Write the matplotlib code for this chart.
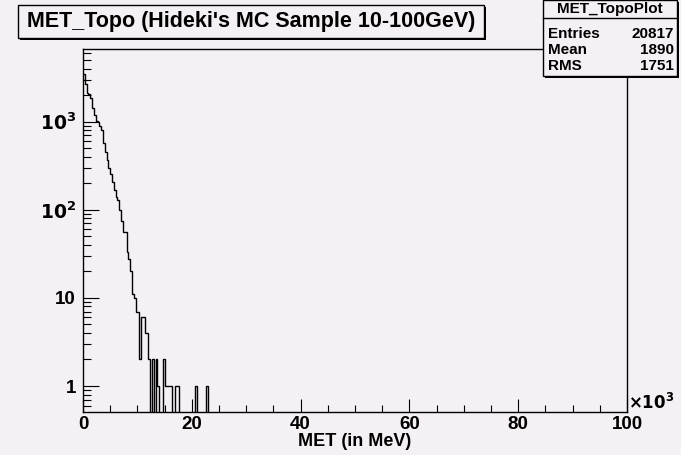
import numpy as np
import matplotlib.pyplot as plt
from matplotlib.patches import Rectangle
from matplotlib.ticker import FixedLocator, LogLocator, NullFormatter

plt.rcParams['font.family'] = ['Liberation Sans', 'DejaVu Sans']
plt.rcParams['font.weight'] = 'bold'
plt.rcParams['mathtext.default'] = 'bf'

# histogram: 300 bins from 0 to 100 GeV
n_bins = 300
met_max = 100000.0
met_counts = [3500, 2700, 2120, 2080, 1850, 1450, 1200, 1020, 990, 900,
              800, 580, 450, 370, 300, 255, 207, 168, 140, 130,
              100, 75, 56, 56, 33, 28, 20, 11, 10, 7,
              7, 2, 6, 6, 4, 4, 2, 0, 2, 0,
              2, 1, 0, 0, 2, 1, 1, 1, 1, 0,
              0, 1, 1, 0, 0, 0, 0, 0, 0, 0,
              0, 0, 1, 0, 0, 0, 0, 0, 1]

x_ticks = [0, 20000, 40000, 60000, 80000, 100000]
x_ticklabels = ['0', '20', '40', '60', '80', '100']
y_ticks = [1, 10, 100, 1000]
y_ticklabels = ['1', '10', r'$\mathbf{10^{2}}$', r'$\mathbf{10^{3}}$']

title = "MET_Topo (Hideki's MC Sample 10-100GeV)"
stats_name = 'MET_TopoPlot'
stats_rows = [('Entries', '20817'), ('Mean', '1890'), ('RMS', '1751')]

bg = '#f4f0f4'
W, H = 681, 455

counts = np.zeros(n_bins)
counts[:len(met_counts)] = met_counts
edges = np.linspace(0, met_max, n_bins + 1)

fig = plt.figure(figsize=(W / 100, H / 100), dpi=100, facecolor=bg)
ax = fig.add_axes([83 / W, 1 - 412 / H, 544 / W, 363 / H])
ax.set_facecolor(bg)

# empty bins drop to the bottom of the frame, like ROOT does
ax.stairs(np.where(counts > 0, counts, 1e-3), edges, baseline=None,
          color='black', lw=1)

ax.set_yscale('log')
ax.set_xlim(0, met_max)
ax.set_ylim(0.507, 6690)

ax.xaxis.set_major_locator(FixedLocator(x_ticks))
ax.set_xticklabels(x_ticklabels)
ax.xaxis.set_minor_locator(FixedLocator(np.arange(0, met_max + 1, 5000)))
ax.yaxis.set_major_locator(FixedLocator(y_ticks))
ax.set_yticklabels(y_ticklabels)
ax.yaxis.set_minor_locator(LogLocator(base=10, subs=np.arange(2, 10)))
ax.yaxis.set_minor_formatter(NullFormatter())

ax.tick_params(axis='x', which='major', direction='in', length=9.5, width=0.8,
               labelsize=13.5, pad=3)
ax.tick_params(axis='x', which='minor', direction='in', length=5, width=0.8)
ax.tick_params(axis='y', which='major', direction='in', length=11.5, width=0.8,
               labelsize=13.5, pad=5)
ax.tick_params(axis='y', which='minor', direction='in', length=5.4, width=0.8)
for s in ax.spines.values():
    s.set_linewidth(1)
    s.set_color('black')

ax.set_xlabel('MET (in MeV)', fontsize=13, fontweight='bold', labelpad=0)
fig.text(628 / W, 1 - 402 / H, r'$\times\mathbf{10^{3}}$', fontsize=12,
         ha='left', va='center')


def box(x0, y0, x1, y1):
    # ROOT style pave with a dark shadow at the bottom-right
    fig.add_artist(Rectangle((x0 / W + 2 / W, 1 - y1 / H - 2 / H),
                             (x1 - x0) / W, (y1 - y0) / H,
                             transform=fig.transFigure, facecolor='black',
                             edgecolor='black', lw=0, zorder=5))
    fig.add_artist(Rectangle((x0 / W, 1 - y1 / H), (x1 - x0) / W,
                             (y1 - y0) / H, transform=fig.transFigure,
                             facecolor=bg, edgecolor='black', lw=1, zorder=6))


box(18, 5, 484, 38)
fig.text((18 + 484) / 2 / W, 1 - 21.5 / H, title, fontsize=15.5,
         ha='center', va='center', zorder=7)

box(543, 0, 677, 76)
fig.text(610 / W, 1 - 9 / H, stats_name, fontsize=11, ha='center',
         va='center', zorder=7)
fig.add_artist(plt.Line2D([543 / W, 677 / W], [1 - 18 / H, 1 - 18 / H],
                          transform=fig.transFigure, color='black', lw=1,
                          zorder=7))
for k, (name, val) in enumerate(stats_rows):
    yy = 1 - (33.5 + 16.5 * k) / H
    fig.text(548 / W, yy, name, fontsize=11, ha='left', va='center',
             zorder=7)
    fig.text(674 / W, yy, val, fontsize=11, ha='right', va='center',
             zorder=7)

fig.savefig('out.png', dpi=100, facecolor=bg)
